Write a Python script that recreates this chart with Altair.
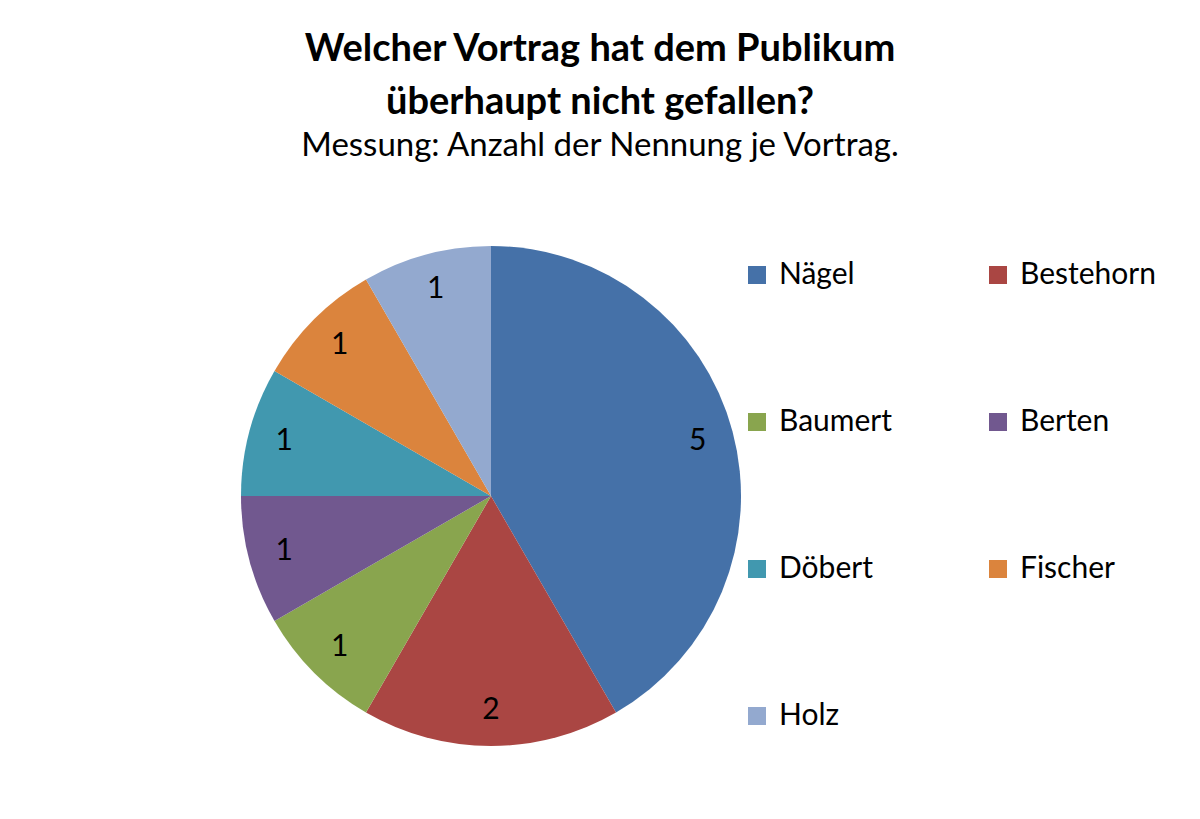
import altair as alt
import pandas as pd

names = ["Nägel", "Bestehorn", "Baumert", "Berten", "Döbert", "Fischer", "Holz"]
counts = [5, 2, 1, 1, 1, 1, 1]
colors = ["#4571A8", "#AA4643", "#89A54E", "#71588F", "#4198AF", "#DB843D", "#93A9CF"]

df = pd.DataFrame({"name": names, "count": counts, "idx": list(range(len(names)))})

FONT = "Lato"

base = alt.Chart(df).encode(
    theta=alt.Theta("count:Q", stack=True),
    order=alt.Order("idx:Q", sort="ascending"),
    x=alt.value(483),
    y=alt.value(308),
)

arcs = base.mark_arc(outerRadius=250, stroke=None).encode(
    color=alt.Color(
        "name:N",
        scale=alt.Scale(domain=names, range=colors),
        sort=names,
        legend=alt.Legend(
            title=None,
            orient="none",
            direction="horizontal",
            legendX=734,
            legendY=72,
            columns=2,
            symbolType="square",
            symbolSize=324,
            symbolStrokeWidth=0,
            labelFont=FONT,
            labelFontSize=30,
            labelColor="#000000",
            labelOffset=7,
            rowPadding=117,
            columnPadding=91,
            labelLimit=300,
        ),
    )
)

labels = base.mark_text(radius=214, font=FONT, fontSize=30, color="#000000").encode(
    text="count:Q"
)

chart = (
    alt.layer(arcs, labels)
    .properties(
        width=1184,
        height=623,
        padding={"top": 180, "left": 0, "right": 0, "bottom": 0},
        autosize=alt.AutoSizeParams(type="none"),
        title=alt.TitleParams(
            text=["Welcher Vortrag hat dem Publikum", "überhaupt nicht gefallen?"],
            subtitle="Messung: Anzahl der Nennung je Vortrag.",
            anchor="middle",
            font=FONT,
            fontSize=38,
            fontWeight="bold",
            lineHeight=53,
            color="#000000",
            subtitleFont=FONT,
            subtitleFontSize=33,
            subtitleColor="#000000",
            subtitlePadding=8,
            offset=25,
        ),
    )
    .configure_view(stroke=None)
)

chart.save("out.html", embed_options={"renderer": "svg", "actions": False})
